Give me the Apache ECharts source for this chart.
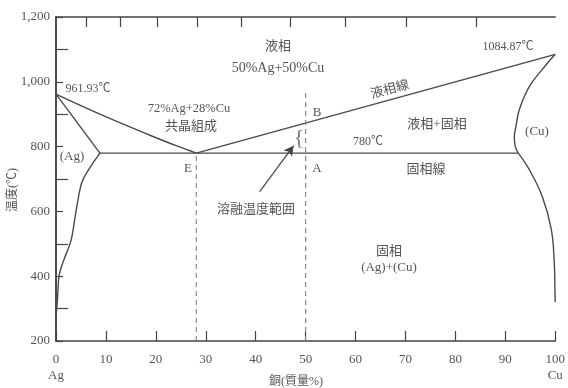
<!DOCTYPE html>
<html><head><meta charset="utf-8">
<script src="https://cdn.jsdelivr.net/npm/echarts@6/dist/echarts.min.js"></script>
<style>html,body{margin:0;padding:0;background:#fff}#c{width:568px;height:388px}</style>
</head><body><div id="c"></div>
<script>
// ---- data (x = Cu wt%, y = temperature °C) ----
const liquidusAg = [[0,961.93],[8.8,900],[18.8,835],[24.2,802],[28.1,780]];
const liquidusCu = [[28.1,780],[100,1084.87]];
const solidusAg = [[0,961.93],[8.8,780]];
const solvusAg = [[8.8,780],[7.0,740],[5.4,698],[4.8,668],[3.9,590],[3.0,510],[1.4,443],[0.6,400],[0.3,330],[0.1,290]];
const solidusCu = [[100,1084.87],[97.5,1040],[94.8,985],[92.8,914],[92.1,860],[91.8,830],[92.0,800],[92.6,780]];
const solvusCu = [[92.6,780],[94.8,729],[97.4,646],[99.2,545],[99.8,443],[99.95,350],[100,320]];
const eutectic = [[8.8,780],[92.6,780]];
const dashE = [[28.1,200],[28.1,780]];
const dashA = [[50,200],[50,975]];
const arrowFrom = [40.8,661];
const arrowTo = [47.6,803];
const topTicks = [6.1,12.8,20.2,28.2,37.1,46.9,57.9,70.2,84.1];
const xTickLabels = {0:'0\nAg',100:'100\nCu'};

const FONT = "'Liberation Serif','Noto Sans CJK JP',serif";
const TXT = '#555';
const LINE = '#4a4a4a';

const chart = echarts.init(document.getElementById('c'));
function line(data, dashed, smooth){
  return {type:'line', data:data, symbol:'none', silent:true, animation:false, smooth:smooth||false,
    xAxisIndex:0, yAxisIndex:0,
    lineStyle:{color: dashed?'#888':LINE, width: dashed?1.2:1.4, type: dashed?[5,4]:'solid'}};
}
function t(x,y,text,size,extra){
  return Object.assign({type:'text', x:x, y:y, style:{text:text, fill:TXT, font:(size||13)+'px '+FONT, textAlign:'center', textVerticalAlign:'middle'}}, extra||{});
}
const series = [
  line(liquidusAg,false,0.4), line(liquidusCu), line(solidusAg), line(solvusAg,false,0.3),
  line(solidusCu,false,0.4), line(solvusCu,false,0.4), line(eutectic),
  line(dashE,true), line(dashA,true),
  {type:'line', data:[], markLine:{silent:true, animation:false, symbol:['none','arrow'], symbolSize:[8,10], label:{show:false},
    lineStyle:{color:'#444', width:1.2, type:'solid'}, data:[[{coord:arrowFrom},{coord:arrowTo}]]}}
];
const texts = [
    t(278,47,'液相',13),
    t(278,68,'50%Ag+50%Cu',14),
    t(88,89,'961.93℃',12),
    t(508,47,'1084.87℃',12),
    t(189,109,'72%Ag+28%Cu',12.5),
    t(191,127,'共晶組成',13),
    t(317,113,'B',13),
    t(390,90,'液相線',13,{rotation:15*Math.PI/180}),
    t(437,125,'液相+固相',13),
    t(537,132,'(Cu)',13),
    t(368,142,'780℃',12),
    t(72,157,'(Ag)',13),
    t(188,169,'E',13),
    t(317,169,'A',13),
    t(426,170,'固相線',13),
    t(256,210,'溶融温度範囲',13),
    t(389,252,'固相',13),
    t(389,268,'(Ag)+(Cu)',13),
    {type:'text', x:299, y:138, style:{text:'{', fill:'#777', font:'22px '+FONT, textAlign:'center', textVerticalAlign:'middle'}},
    t(296,382,'銅(質量%)',12),
    t(13,190,'温度(℃)',12,{rotation:Math.PI/2})
];
chart.setOption({
  animation:false,
  grid:{left:56, right:11, top:17, bottom:47},
  xAxis:[{type:'value', min:0, max:100, interval:10, position:'bottom',
    axisLine:{lineStyle:{color:'#444', width:1.5}},
    axisTick:{inside:true, length:10, lineStyle:{color:'#444', width:1.2}},
    splitLine:{show:false},
    axisLabel:{margin:11, color:TXT, fontSize:13, fontFamily:FONT, lineHeight:16,
      formatter:v=> xTickLabels[v]!==undefined ? xTickLabels[v] : String(v)}},
   {type:'value', min:0, max:100, position:'top',
    axisLine:{lineStyle:{color:'#444', width:1.5}},
    axisTick:{show:false}, axisLabel:{show:false}, splitLine:{show:false}}],
  yAxis:[{type:'value', min:200, max:1200, interval:200, position:'left',
    axisLine:{show:true, lineStyle:{color:'#444', width:1.5}},
    axisTick:{inside:true, length:7, lineStyle:{color:'#444', width:1.2}},
    minorTick:{show:true, splitNumber:2, length:12, lineStyle:{color:'#444', width:1.2}},
    splitLine:{show:false},
    axisLabel:{margin:6, color:TXT, fontSize:13, fontFamily:FONT,
      formatter:v=> v>=1000 ? String(v).replace(/(\d)(\d{3})$/,'$1,$2') : String(v)}},
   {type:'value', min:200, max:1200, position:'right',
    axisLine:{show:true, lineStyle:{color:'#444', width:1.5}},
    axisTick:{show:false}, axisLabel:{show:false}, splitLine:{show:false}}],
  series: series
});
// top-axis (atomic %) ticks, placed through the chart's own scale
const topLines = topTicks.map(v=>{
  const p = chart.convertToPixel({xAxisIndex:0, yAxisIndex:0}, [v,1200]);
  return {type:'line', shape:{x1:Math.round(p[0])+0.5, y1:p[1], x2:Math.round(p[0])+0.5, y2:p[1]+10}, style:{stroke:'#444', lineWidth:1.2}, silent:true};
});
chart.setOption({graphic: texts.concat(topLines)});
</script></body></html>
